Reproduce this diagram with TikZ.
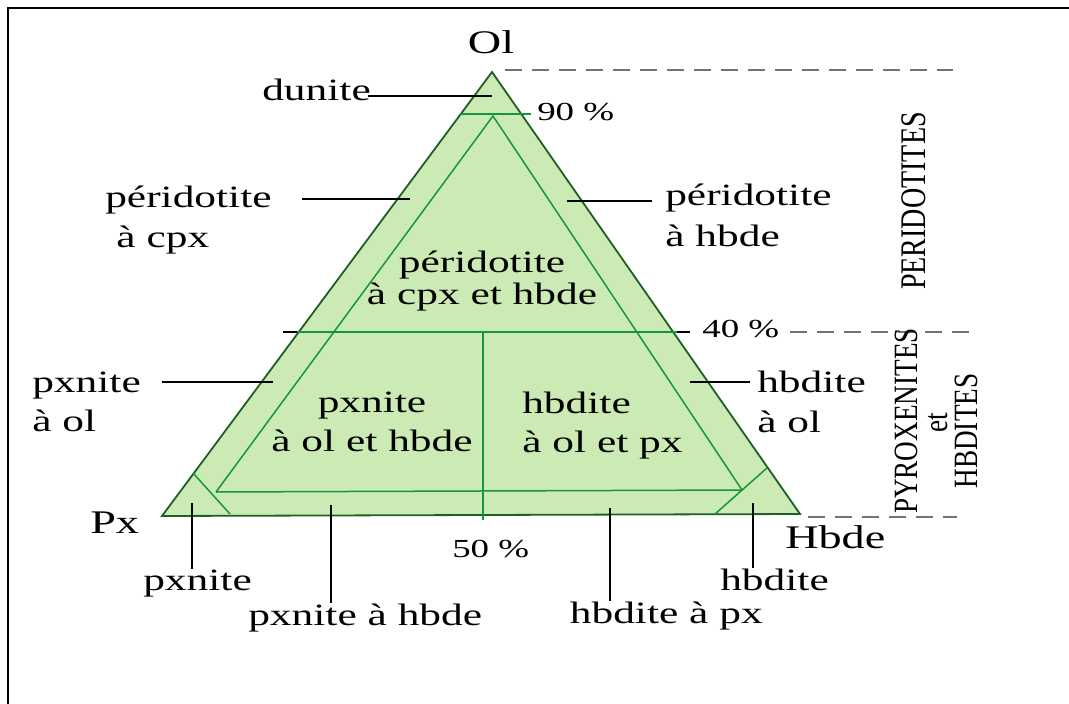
\documentclass[tikz,border=0pt]{standalone}
\usepackage{xcolor}
\usepackage{fontspec}
\setmainfont{Liberation Serif}
\usepackage{tikz}
\usetikzlibrary{positioning}

\definecolor{zonefill}{RGB}{204,235,180}
\definecolor{zoneline}{RGB}{20,150,60}
\definecolor{edgeline}{RGB}{30,95,40}

\tikzset{
  lbl/.style={font=\fontsize{31}{40}\selectfont, inner sep=0pt, xscale=1.4},
  big/.style={font=\fontsize{33}{36}\selectfont, inner sep=0pt, xscale=1.4},
  pct/.style={font=\fontsize{26}{30}\selectfont, inner sep=0pt, xscale=1.42},
  grp/.style={inner sep=0pt, rotate=90, anchor=base},
  zone/.style={draw=zoneline, line width=1.5pt},
  lead/.style={draw=black, line width=1.3pt},
  bound/.style={draw=black!55, line width=2.8pt, dash pattern=on 17pt off 10pt},
}

\begin{document}
\begin{tikzpicture}[x=1pt, y=-1pt]
				\useasboundingbox (0,0) rectangle (1069,704);
				\draw[line width=2.6pt] (8,704) -- (8,8) -- (1069,8);

				% corners of the diagram
				\coordinate (vOl) at (492,72);
				\coordinate (vPx) at (162,516);
				\coordinate (vHb) at (800,514);
				\filldraw[fill=zonefill, draw=edgeline, line width=1.8pt] (vPx) -- (vOl) -- (vHb) -- cycle;

				% limits
				\coordinate (l90a) at (460,114);
				\coordinate (l90b) at (531,114);
				\coordinate (inTop) at (493,116);
				\coordinate (inL) at (216,492);
				\coordinate (inR) at (742,490);
				\coordinate (l40a) at (283,332);
				\coordinate (l40b) at (690,332);
				\coordinate (l40ae) at (297,332);
				\coordinate (l40be) at (677,332);
				\coordinate (l50a) at (483,332);
				\coordinate (l50b) at (483,520);
				\coordinate (cLa) at (193,473);
				\coordinate (cLb) at (230,514);
				\coordinate (cRa) at (767,468);
				\coordinate (cRb) at (715,514);
				\draw[zone] (l90a) -- (l90b);
				\draw[zone] (inL) -- (inTop) -- (inR);
				\draw[zone] (inL) -- (inR);
				\draw[zone] (l40a) -- (l40b);
				\draw[lead] (l40a) -- (l40ae);
				\draw[lead] (l40be) -- (l40b);
				\draw[zone] (l50a) -- (l50b);
				\draw[zone] (cLa) -- (cLb);
				\draw[zone] (cRa) -- (cRb);

				% groups on the right
				\coordinate (b1a) at (505,70);
				\coordinate (b1b) at (953,70);
				\coordinate (b2a) at (790,332);
				\coordinate (b2b) at (973,332);
				\coordinate (b3a) at (808,517);
				\coordinate (b3b) at (957,517);
				\draw[bound] (b1a) -- (b1b);
				\draw[bound] (b2a) -- (b2b);
				\draw[bound] (b3a) -- (b3b);
				\node[grp, font=\fontsize{36}{40}\selectfont] (gPer) at (925,201) {\scalebox{0.78}[1]{PERIDOTITES}};
				\node[grp, font=\fontsize{34}{38}\selectfont] (gPyx) at (917,421) {\scalebox{0.8}[1]{PYROXENITES}};
				\node[grp, font=\fontsize{34}{38}\selectfont] (gEt) at (947,423) {\scalebox{0.8}[1]{et}};
				\node[grp, font=\fontsize{34}{38}\selectfont] (gHbd) at (977,431) {\scalebox{0.8}[1]{HBDITES}};

				% poles and percentages
				\node[big, anchor=base] (Ol) at (491,53) {Ol};
				\node[big, anchor=base west] (Px) at (90,533) {Px};
				\node[big, anchor=base west] (Hbde) at (785,548) {Hbde};
				\node[pct, anchor=base west] (p90) at (537,120) {90 \%};
				\node[pct, anchor=base west] (p40) at (702,337) {40 \%};
				\node[pct, anchor=base west] (p50) at (452,557) {50 \%};

				% rock names inside
				\node[lbl, anchor=north, align=center, font=\fontsize{31}{32}\selectfont] (perCH) at (482,251) {péridotite\\à cpx et hbde};
				\node[lbl, anchor=north, align=center, font=\fontsize{31}{39}\selectfont] (pxOH) at (372,392) {pxnite\\à ol et hbde};
				\node[lbl, anchor=north west, align=left, font=\fontsize{31}{39}\selectfont] (hbOP) at (522,392) {hbdite\\à ol et px};

				% rock names outside, with their leaders
				\node[lbl, anchor=base west] (dun) at (262,100) {dunite};
				\coordinate (dunA) at (368,96);
				\coordinate (dunB) at (492,96);
				\draw[lead] (dunA) -- (dunB);

				\node[lbl, anchor=north west, align=left] (perC) at (105,186) {péridotite\\\hspace*{8pt}à cpx};
				\coordinate (perCA) at (302,199);
				\coordinate (perCB) at (410,199);
				\draw[lead] (perCA) -- (perCB);

				\node[lbl, anchor=north west, align=left, font=\fontsize{31}{41}\selectfont] (perH) at (665,184) {péridotite\\à hbde};
				\coordinate (perHA) at (567,201);
				\coordinate (perHB) at (652,201);
				\draw[lead] (perHA) -- (perHB);

				\node[lbl, anchor=north west, align=left, font=\fontsize{31}{39}\selectfont] (pxO) at (32,372) {pxnite\\à ol};
				\coordinate (pxOA) at (162,382);
				\coordinate (pxOB) at (273,382);
				\draw[lead] (pxOA) -- (pxOB);

				\node[lbl, anchor=north west, align=left] (hbO) at (757,371) {hbdite\\à ol};
				\coordinate (hbOA) at (690,382);
				\coordinate (hbOB) at (750,382);
				\draw[lead] (hbOA) -- (hbOB);

				\node[lbl, anchor=base west] (pxn) at (143,590) {pxnite};
				\coordinate (pxnA) at (192,503);
				\draw[lead] (pxnA) -- (pxnA |- pxn.north);

				\node[lbl, anchor=base west] (pxH) at (248,625) {pxnite à hbde};
				\coordinate (pxHA) at (331,505);
				\draw[lead] (pxHA) -- (pxHA |- pxH.north);

				\node[lbl, anchor=base east] (hbP) at (763,623) {hbdite à px};
				\coordinate (hbPA) at (610,508);
				\draw[lead] (hbPA) -- (hbPA |- hbP.north);

				\node[lbl, anchor=base west] (hbd) at (720,590) {hbdite};
				\coordinate (hbdA) at (753,503);
				\draw[lead] (hbdA) -- (hbdA |- hbd.north);
			\end{tikzpicture}
\end{document}
